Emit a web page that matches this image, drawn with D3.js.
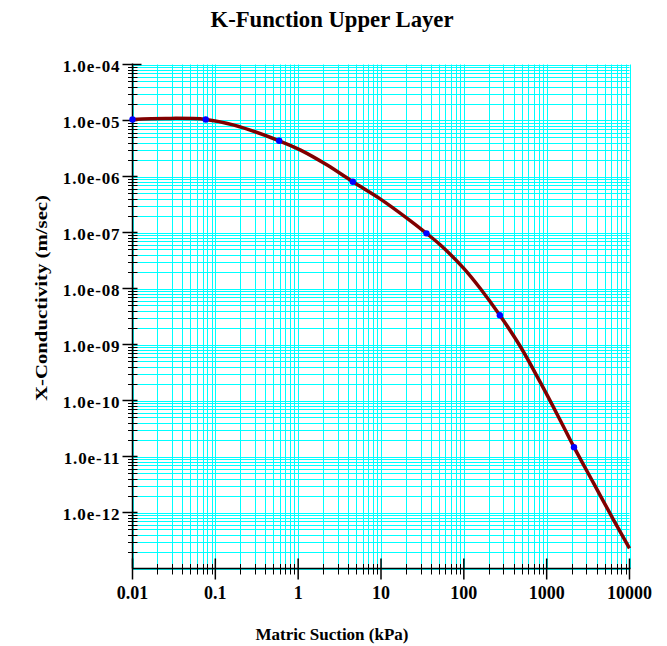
<!DOCTYPE html>
<html>
<head>
<meta charset="utf-8">
<script src="https://cdn.jsdelivr.net/npm/d3@7"></script>
<style>
  html, body { margin: 0; padding: 0; background: #fff; }
  svg { display: block; }
  text { font-family: "Liberation Serif", "Times New Roman", serif; font-weight: bold; fill: #000; }
</style>
</head>
<body>
<svg id="chart" width="667" height="646"></svg>
<script>
// Hydraulic conductivity function of the upper layer (log-log)
const suction = [0.01, 0.025, 0.0765, 0.168, 0.59, 1.07, 2.24, 4.57, 9.86, 20.7, 35.4, 52.2,
                 99.8, 158, 272, 481, 839, 1462, 2138, 3683, 6412, 10000];
const conductivity = [1.045e-5, 1.09e-5, 1.045e-5, 8.26e-6, 4.34e-6, 2.96e-6, 1.6e-6, 8.04e-7,
                      3.95e-7, 1.79e-7, 9.66e-8, 5.97e-8, 2.29e-8, 1.0e-8, 3.33e-9, 9.2e-10,
                      2.1e-10, 4.4e-11, 1.47e-11, 3.34e-12, 7.41e-13, 2.28e-13];

// Marked data points on the curve
const pointSuction = [0.01, 0.0765, 0.59, 4.57, 35.4, 272, 2138];
const pointConductivity = [1.045e-5, 1.045e-5, 4.34e-6, 8.04e-7, 9.66e-8, 3.33e-9, 1.47e-11];

// Axis ticks and labels
const xTicks = [0.01, 0.1, 1, 10, 100, 1000, 10000];
const xTickLabels = ["0.01", "0.1", "1", "10", "100", "1000", "10000"];
const yTicks = [1e-4, 1e-5, 1e-6, 1e-7, 1e-8, 1e-9, 1e-10, 1e-11, 1e-12];
const yTickLabels = ["1.0e-04", "1.0e-05", "1.0e-06", "1.0e-07", "1.0e-08", "1.0e-09",
                     "1.0e-10", "1.0e-11", "1.0e-12"];

const titleText = "K-Function Upper Layer";
const xTitle = "Matric Suction (kPa)";
const yTitle = "X-Conductivity (m/sec)";

const W = 667, H = 646;
const margin = { left: 132.5, right: 37.5, top: 64.5, bottom: 77.5 };
const svg = d3.select("#chart");

const x = d3.scaleLog().domain([0.01, 10000]).range([margin.left, W - margin.right]);
const y = d3.scaleLog().domain([1e-13, 1e-4]).range([H - margin.bottom, margin.top]);

// every 1..9 multiple in each decade
function logSteps(lo, hi) {
  const out = [];
  for (let e = Math.round(Math.log10(lo)); e < Math.round(Math.log10(hi)); e++) {
    for (let k = 1; k <= 9; k++) out.push(k * Math.pow(10, e));
  }
  out.push(hi);
  return out;
}
const xMinor = logSteps(0.01, 10000);
const yMinor = logSteps(1e-13, 1e-4);

const [x0, x1] = x.range();
const [yb, yt] = y.range();
const snap = v => Math.round(v) + 0.5;

// cyan grid
const grid = svg.append("g").attr("stroke", "#00ffff").attr("stroke-width", 1);
grid.selectAll(".gx").data(xMinor).join("line")
  .attr("x1", d => snap(x(d))).attr("x2", d => snap(x(d)))
  .attr("y1", yt).attr("y2", yb);
grid.selectAll(".gy").data(yMinor).join("line")
  .attr("y1", d => snap(y(d))).attr("y2", d => snap(y(d)))
  .attr("x1", x0).attr("x2", x1);

// axes
const axes = svg.append("g").attr("stroke", "#000").attr("stroke-width", 1.5);
axes.append("line").attr("x1", x0).attr("x2", x0).attr("y1", yt - 1).attr("y2", yb);
axes.append("line").attr("x1", x0).attr("x2", x1 + 1).attr("y1", yb).attr("y2", yb);

const xMinorOnly = xMinor.filter(v => !xTicks.some(t => Math.abs(t - v) / t < 1e-9));
const yMinorOnly = yMinor.filter(v => !yTicks.some(t => Math.abs(t - v) / t < 1e-9) && v > 1e-13);

axes.selectAll(".xm").data(xMinorOnly).join("line")
  .attr("x1", d => snap(x(d))).attr("x2", d => snap(x(d)))
  .attr("y1", yb - 4.5).attr("y2", yb + 6).attr("stroke-width", 1);
axes.selectAll(".xM").data(xTicks).join("line")
  .attr("x1", d => x(d)).attr("x2", d => x(d))
  .attr("y1", yb - 10).attr("y2", yb + 11);
axes.selectAll(".ym").data(yMinorOnly).join("line")
  .attr("y1", d => snap(y(d))).attr("y2", d => snap(y(d)))
  .attr("x1", x0 - 4.5).attr("x2", x0 + 5).attr("stroke-width", 1);
axes.selectAll(".yM").data(yTicks).join("line")
  .attr("y1", d => y(d)).attr("y2", d => y(d))
  .attr("x1", x0 - 10).attr("x2", (d, i) => x0 + (i === 0 ? 9 : 5));

// tick labels
svg.append("g").selectAll("text").data(xTicks).join("text")
  .attr("x", d => x(d)).attr("y", yb + 30)
  .attr("text-anchor", "middle").attr("font-size", 18)
  .text((d, i) => xTickLabels[i]);
svg.append("g").selectAll("text").data(yTicks).join("text")
  .attr("x", x0 - 12).attr("y", d => y(d) + 7)
  .attr("text-anchor", "end").attr("font-size", 17)
  .attr("letter-spacing", 0.9)
  .text((d, i) => yTickLabels[i]);

// conductivity curve
const pts = suction.map((s, i) => [s, conductivity[i]]);
const line = d3.line().x(d => x(d[0])).y(d => y(d[1])).curve(d3.curveCatmullRom.alpha(0.5));
svg.append("path").datum(pts)
  .attr("d", line).attr("fill", "none")
  .attr("stroke", "#800000").attr("stroke-width", 3.5)
  .attr("stroke-linejoin", "round").attr("stroke-linecap", "butt");

// data markers
svg.append("g").selectAll("circle").data(pointSuction).join("circle")
  .attr("cx", d => x(d)).attr("cy", (d, i) => y(pointConductivity[i]))
  .attr("r", 3.2).attr("fill", "#0000ff");

// titles
svg.append("text").attr("x", 332).attr("y", 27)
  .attr("text-anchor", "middle").attr("font-size", 24)
  .attr("textLength", 243).attr("lengthAdjust", "spacingAndGlyphs")
  .text(titleText);
svg.append("text").attr("x", 332).attr("y", 640)
  .attr("text-anchor", "middle").attr("font-size", 17)
  .text(xTitle);
svg.append("text")
  .attr("transform", "translate(47,298) rotate(-90)")
  .attr("text-anchor", "middle").attr("font-size", 17)
  .attr("textLength", 206).attr("lengthAdjust", "spacingAndGlyphs")
  .text(yTitle);
</script>
</body>
</html>
